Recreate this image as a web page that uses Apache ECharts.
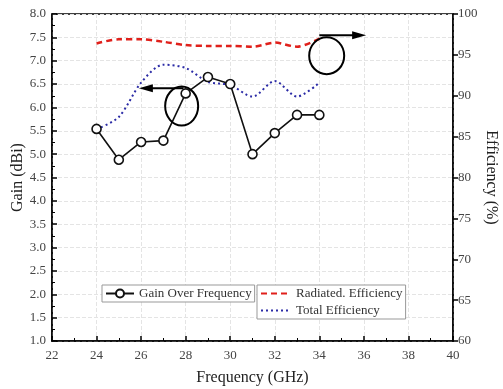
<!DOCTYPE html>
<html>
<head>
<meta charset="utf-8">
<script src="https://cdn.jsdelivr.net/npm/echarts@6/dist/echarts.min.js"></script>
<style>
html, body { margin: 0; padding: 0; background: #fff; }
#main { width: 503px; height: 389px; }
</style>
</head>
<body>
<div id="main"></div>
<script>
var freq = [24, 25, 26, 27, 28, 29, 30, 31, 32, 33, 34];
var gain = [5.54, 4.88, 5.26, 5.29, 6.3, 6.65, 6.5, 5.0, 5.45, 5.84, 5.84];
var radEff = [96.4, 96.9, 96.9, 96.6, 96.2, 96.1, 96.1, 96.0, 96.5, 96.0, 97.0];
var totEff = [85.9, 87.4, 91.6, 93.8, 93.4, 91.7, 91.3, 89.9, 91.8, 89.9, 91.6];

function pairs(xs, ys) {
    var out = [];
    for (var i = 0; i < xs.length; i++) out.push([xs[i], ys[i]]);
    return out;
}

var font = 'Liberation Serif';
var chart = echarts.init(document.getElementById('main'));
var option = {
    backgroundColor: '#fff',
    textStyle: { fontFamily: font },
    grid: { left: 52, right: 50, top: 14, bottom: 48, show: true, borderColor: '#000', borderWidth: 1.5,
        outerBoundsMode: 'none', containLabel: false },
    xAxis: {
        type: 'value', min: 22, max: 40, interval: 2,
        name: 'Frequency (GHz)', nameLocation: 'middle', nameGap: 29, nameMoveOverlap: false,
        nameTextStyle: { fontFamily: font, fontSize: 16, color: '#222' },
        axisLine: { lineStyle: { color: '#000', width: 1.5 } },
        axisTick: { inside: true, length: 5, lineStyle: { color: '#000', width: 1.5 } },
        minorTick: { show: true, splitNumber: 2, length: 3, lineStyle: { color: '#000' } },
        axisLabel: { fontFamily: font, fontSize: 13, color: '#444', margin: 8 },
        splitLine: { show: true, lineStyle: { color: '#e4e4e4', type: 'dashed' } }
    },
    yAxis: [{
        type: 'value', min: 1, max: 8, interval: 0.5,
        name: 'Gain (dBi)', nameLocation: 'middle', nameGap: 26, nameMoveOverlap: false,
        nameTextStyle: { fontFamily: font, fontSize: 16, color: '#222' },
        axisLine: { show: true, lineStyle: { color: '#000', width: 1.5 } },
        axisTick: { inside: true, length: 5, lineStyle: { color: '#000', width: 1.5 } },
        minorTick: { show: true, splitNumber: 2, length: 3, lineStyle: { color: '#000' } },
        axisLabel: { fontFamily: font, fontSize: 13, color: '#444', margin: 6,
            formatter: function (v) { return v.toFixed(1); } },
        splitLine: { show: true, lineStyle: { color: '#e4e4e4', type: 'dashed' } }
    }, {
        type: 'value', min: 60, max: 100, interval: 5, position: 'right',
        name: 'Efficiency (%)', nameLocation: 'middle', nameGap: 30, nameRotate: -90, nameMoveOverlap: false,
        nameTextStyle: { fontFamily: font, fontSize: 16, color: '#222' },
        axisLine: { show: true, lineStyle: { color: '#000', width: 1.5 } },
        axisTick: { inside: false, length: 5, lineStyle: { color: '#000', width: 1.5 } },
        axisLabel: { fontFamily: font, fontSize: 13, color: '#444', margin: 5 },
        splitLine: { show: false }
    }],
    legend: [{
        data: ['Gain Over Frequency'],
        left: 102, top: 285, padding: [2, 3],
        itemWidth: 28, itemHeight: 10, itemGap: 4,
        borderColor: '#999', borderWidth: 1, backgroundColor: '#fff',
        textStyle: { fontFamily: font, fontSize: 13, color: '#333' }
    }, {
        data: [
            { name: 'Radiated. Efficiency', itemStyle: { opacity: 0 } },
            { name: 'Total Efficiency', itemStyle: { opacity: 0 } }
        ],
        orient: 'vertical', left: 257, top: 285, padding: [2, 3],
        itemWidth: 30, itemHeight: 10, itemGap: 4,
        borderColor: '#999', borderWidth: 1, backgroundColor: '#fff',
        textStyle: { fontFamily: font, fontSize: 13, color: '#333' }
    }],
    series: [{
        name: 'Gain Over Frequency', type: 'line', yAxisIndex: 0,
        data: pairs(freq, gain),
        symbol: 'circle', symbolSize: 9,
        itemStyle: { color: '#fff', borderColor: '#111', borderWidth: 1.6 },
        lineStyle: { color: '#111', width: 1.6 },
        z: 5
    }, {
        name: 'Radiated. Efficiency', type: 'line', yAxisIndex: 1,
        data: pairs(freq, radEff), smooth: 0.3,
        symbol: 'none',
        itemStyle: { color: '#e0201b' },
        lineStyle: { color: '#e0201b', width: 2.5, type: [6, 4] }
    }, {
        name: 'Total Efficiency', type: 'line', yAxisIndex: 1,
        data: pairs(freq, totEff), smooth: 0.3,
        symbol: 'none',
        itemStyle: { color: '#2b2ba6' },
        lineStyle: { color: '#2b2ba6', width: 2, type: [2, 3] }
    }]
};
chart.setOption(option);

// annotation ellipses and arrows
function px(x, y, ax) {
    return chart.convertToPixel({ xAxisIndex: 0, yAxisIndex: ax }, [x, y]);
}
function arrow(p0, p1) {
    var dir = p1[0] > p0[0] ? 1 : -1;
    return [{
        type: 'line', shape: { x1: p0[0], y1: p0[1], x2: p1[0] - dir * 10, y2: p1[1] },
        style: { stroke: '#000', lineWidth: 2 }, z: 20
    }, {
        type: 'polygon',
        shape: { points: [[p1[0], p1[1]], [p1[0] - dir * 14, p1[1] - 4], [p1[0] - dir * 14, p1[1] + 4]] },
        style: { fill: '#000' }, z: 20
    }];
}
var c1 = px(27.82, 6.03, 0);
var c2 = px(34.33, 94.9, 1);
var a1 = px(27.9, 6.41, 0), a1e = px(25.9, 6.41, 0);
var a2 = px(34.0, 97.4, 1), a2e = px(36.1, 97.4, 1);
chart.setOption({
    graphic: [
        { type: 'ellipse', shape: { cx: c1[0], cy: c1[1], rx: 16.5, ry: 19.5 },
          style: { fill: 'none', stroke: '#000', lineWidth: 2 }, z: 20 },
        { type: 'ellipse', shape: { cx: c2[0], cy: c2[1], rx: 17.5, ry: 18.5 },
          style: { fill: 'none', stroke: '#000', lineWidth: 2 }, z: 20 }
    ].concat(arrow(a1, a1e)).concat(arrow(a2, a2e))
});
</script>
</body>
</html>
